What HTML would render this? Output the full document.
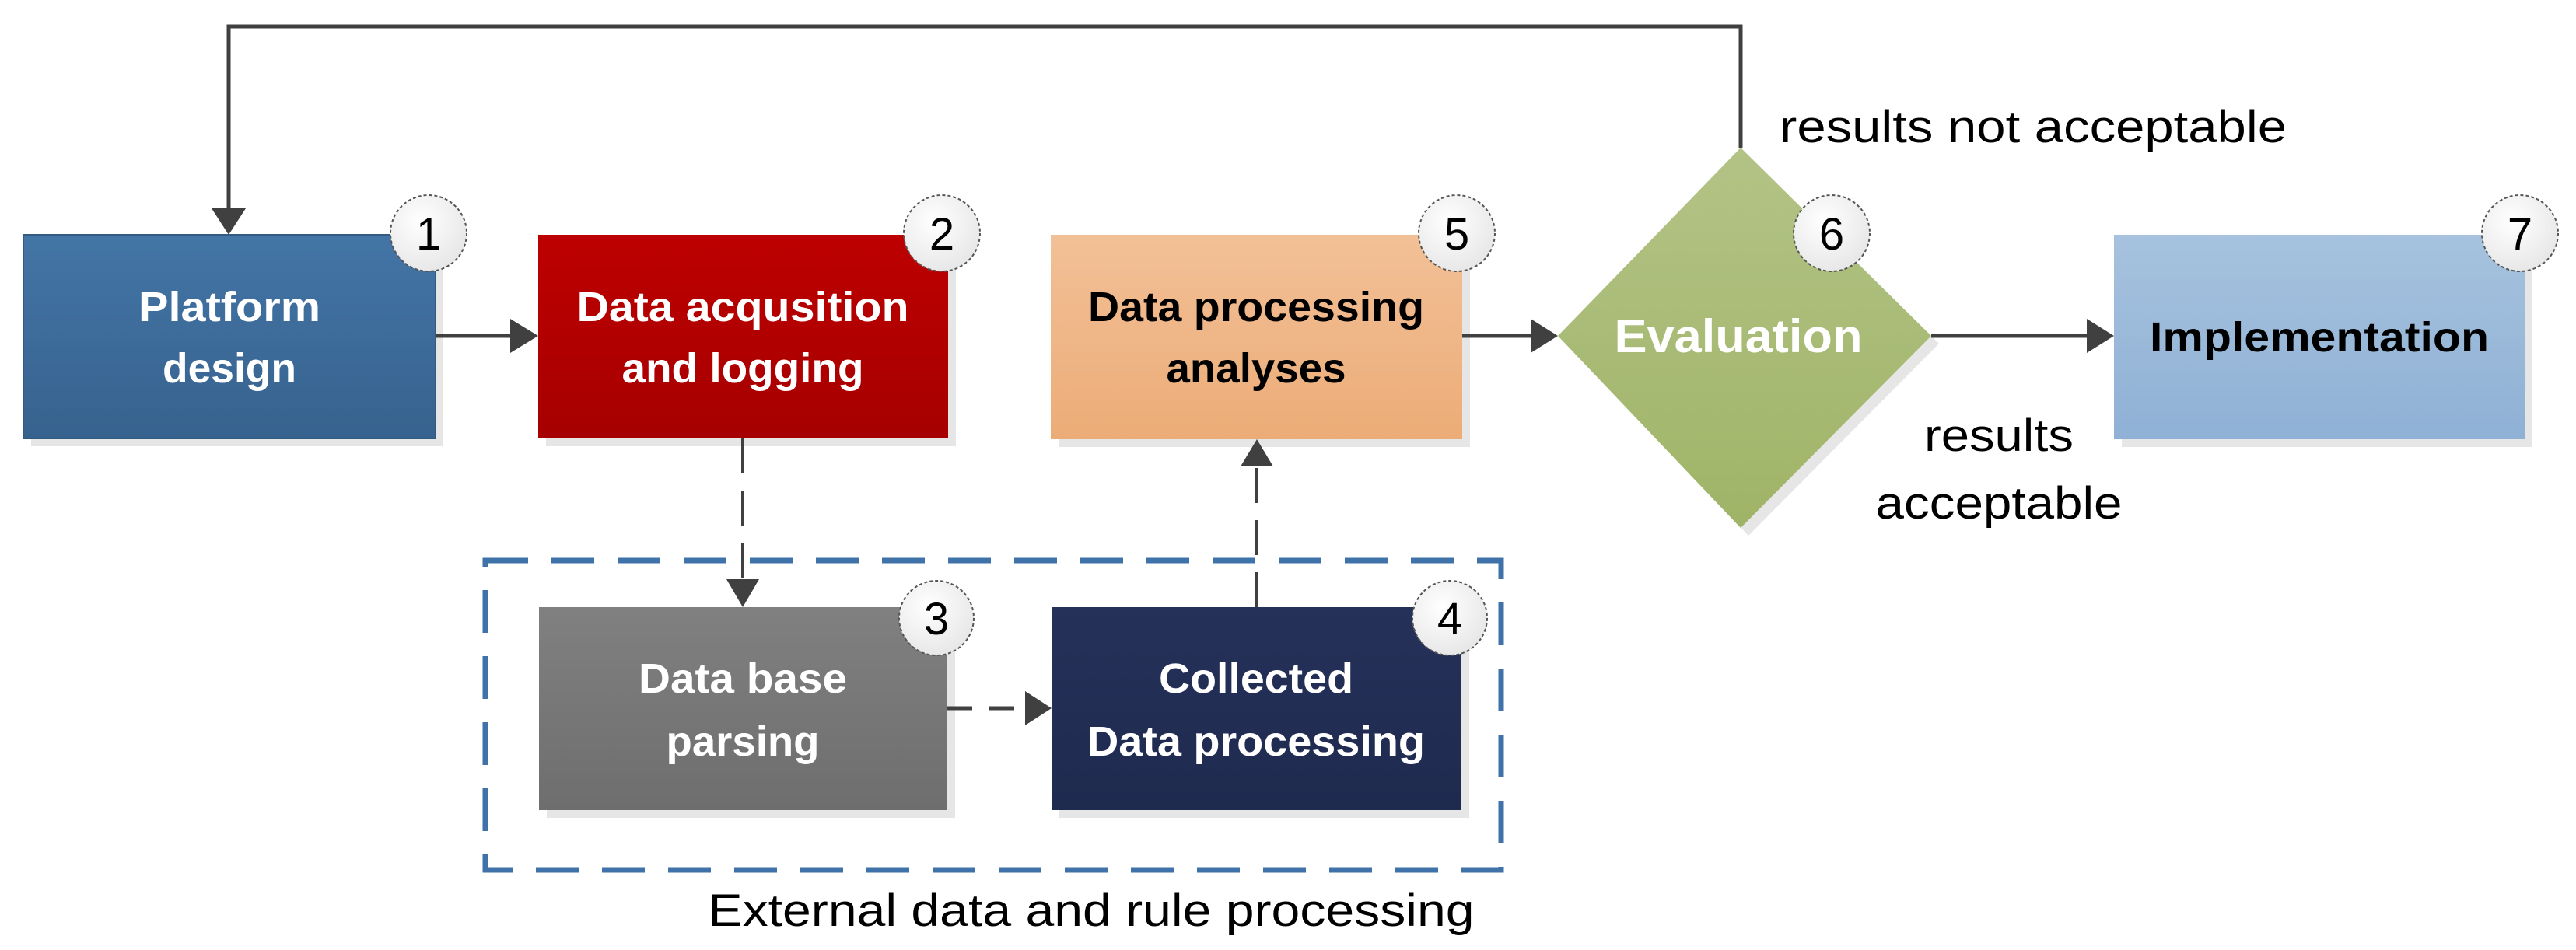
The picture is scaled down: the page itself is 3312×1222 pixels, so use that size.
<!DOCTYPE html>
<html><head><meta charset="utf-8"><style>
html,body{margin:0;padding:0;background:#fff;width:3312px;height:1222px;overflow:hidden}
svg text{font-family:"Liberation Sans",sans-serif}
</style></head><body>
<svg width="3312" height="1222" viewBox="0 0 3312 1222" xmlns="http://www.w3.org/2000/svg">
<defs>
<linearGradient id="gb" x1="0" y1="0" x2="0" y2="1"><stop offset="0" stop-color="#4375a6"/><stop offset="1" stop-color="#37628e"/></linearGradient>
<linearGradient id="gr" x1="0" y1="0" x2="0" y2="1"><stop offset="0" stop-color="#bd0000"/><stop offset="1" stop-color="#a60000"/></linearGradient>
<linearGradient id="go" x1="0" y1="0" x2="0" y2="1"><stop offset="0" stop-color="#f2c097"/><stop offset="1" stop-color="#ecac77"/></linearGradient>
<linearGradient id="gl" x1="0" y1="0" x2="0" y2="1"><stop offset="0" stop-color="#a6c2de"/><stop offset="1" stop-color="#8fb1d5"/></linearGradient>
<linearGradient id="gg" x1="0" y1="0" x2="0" y2="1"><stop offset="0" stop-color="#808080"/><stop offset="1" stop-color="#6e6e6e"/></linearGradient>
<linearGradient id="gn" x1="0" y1="0" x2="0" y2="1"><stop offset="0" stop-color="#253159"/><stop offset="1" stop-color="#1f2a4f"/></linearGradient>
<linearGradient id="gd" x1="0" y1="0" x2="0" y2="1"><stop offset="0" stop-color="#b3c386"/><stop offset="1" stop-color="#9fb467"/></linearGradient>
<radialGradient id="gc" cx="0.4" cy="0.35" r="0.7"><stop offset="0" stop-color="#fff"/><stop offset="1" stop-color="#e6e6e6"/></radialGradient>
</defs>
<g fill="#e6e6e6">
<rect x="40" y="312" width="530" height="262"/>
<rect x="702" y="312" width="527" height="262"/>
<rect x="1361" y="312" width="529" height="263"/>
<rect x="2728" y="312" width="528" height="263"/>
<rect x="703" y="791" width="525" height="261"/>
<rect x="1362" y="791" width="527" height="261"/>
<polygon points="2248,200 2493,442 2248,689 2013,442"/>
</g>
<polyline points="2238,190 2238,34 294,34 294,270" fill="none" stroke="#404040" stroke-width="5"/>
<polygon points="272,268 316,268 294,302" fill="#404040"/>
<rect x="30" y="302" width="530" height="262" fill="url(#gb)" stroke="#355a80" stroke-width="2"/>
<rect x="692" y="302" width="527" height="262" fill="url(#gr)"/>
<rect x="1351" y="302" width="529" height="263" fill="url(#go)"/>
<rect x="2718" y="302" width="528" height="263" fill="url(#gl)"/>
<rect x="693" y="781" width="525" height="261" fill="url(#gg)"/>
<rect x="1352" y="781" width="527" height="261" fill="url(#gn)"/>
<polygon points="2238,190 2483,432 2238,679 2003,432" fill="url(#gd)"/>
<rect x="624" y="721" width="1306" height="398" fill="none" stroke="#3f72a8" stroke-width="7" stroke-dasharray="55,30"/>
<g stroke="#404040" stroke-width="5" fill="none">
<line x1="560" y1="432" x2="660" y2="432"/>
<line x1="1880" y1="432" x2="1970" y2="432"/>
<line x1="2483" y1="432" x2="2685" y2="432"/>
<line x1="955" y1="564" x2="955" y2="748" stroke-dasharray="45,22" stroke-width="4"/>
<line x1="1218" y1="911" x2="1320" y2="911" stroke-dasharray="32,22"/>
<line x1="1616" y1="781" x2="1616" y2="600" stroke-dasharray="45,22" stroke-width="4"/>
</g>
<g fill="#404040">
<polygon points="656,410 692,432 656,454"/>
<polygon points="1968,410 2003,432 1968,454"/>
<polygon points="2683,410 2718,432 2683,454"/>
<polygon points="934,745 976,745 955,781"/>
<polygon points="1318,889 1352,911 1318,933"/>
<polygon points="1595,600 1637,600 1616,565"/>
</g>
<g stroke="#555" stroke-width="2" stroke-dasharray="4,3" fill="url(#gc)">
<circle cx="551" cy="300" r="49"/><circle cx="1211" cy="300" r="49"/>
<circle cx="1204" cy="795" r="48"/><circle cx="1864" cy="795" r="48"/>
<circle cx="1873" cy="300" r="49"/><circle cx="2355" cy="300" r="49"/><circle cx="3240" cy="300" r="49"/>
</g>
<g font-size="58" fill="#000" text-anchor="middle">
<text x="551" y="321">1</text><text x="1211" y="321">2</text>
<text x="1204" y="816">3</text><text x="1864" y="816">4</text>
<text x="1873" y="321">5</text><text x="2355" y="321">6</text><text x="3240" y="321">7</text>
</g>
<g font-weight="bold" font-size="54" text-anchor="middle" lengthAdjust="spacingAndGlyphs">
<text x="295" y="413" fill="#fff" textLength="234" lengthAdjust="spacingAndGlyphs">Platform</text>
<text x="295" y="492" fill="#fff" textLength="172" lengthAdjust="spacingAndGlyphs">design</text>
<text x="955" y="413" fill="#fff" textLength="427" lengthAdjust="spacingAndGlyphs">Data acqusition</text>
<text x="955" y="492" fill="#fff" textLength="311" lengthAdjust="spacingAndGlyphs">and logging</text>
<text x="1615" y="413" fill="#000" textLength="432" lengthAdjust="spacingAndGlyphs">Data processing</text>
<text x="1615" y="492" fill="#000" textLength="231" lengthAdjust="spacingAndGlyphs">analyses</text>
<text x="2982" y="452" fill="#000" textLength="436" lengthAdjust="spacingAndGlyphs">Implementation</text>
<text x="955" y="891" fill="#fff" textLength="268" lengthAdjust="spacingAndGlyphs">Data base</text>
<text x="955" y="972" fill="#fff" textLength="197" lengthAdjust="spacingAndGlyphs">parsing</text>
<text x="1615" y="891" fill="#fff" textLength="250" lengthAdjust="spacingAndGlyphs">Collected</text>
<text x="1615" y="972" fill="#fff" textLength="434" lengthAdjust="spacingAndGlyphs">Data processing</text>
<text x="2235" y="453" fill="#fff" font-size="60" textLength="319" lengthAdjust="spacingAndGlyphs">Evaluation</text>
</g>
<g font-size="58" fill="#000">
<text x="2288" y="183" textLength="652" lengthAdjust="spacingAndGlyphs">results not acceptable</text>
<text x="2570" y="580" text-anchor="middle" textLength="192" lengthAdjust="spacingAndGlyphs">results</text>
<text x="2570" y="667" text-anchor="middle" textLength="317" lengthAdjust="spacingAndGlyphs">acceptable</text>
<text x="1403" y="1191" text-anchor="middle" textLength="985" lengthAdjust="spacingAndGlyphs">External data and rule processing</text>
</g>
</svg>
</body></html>
